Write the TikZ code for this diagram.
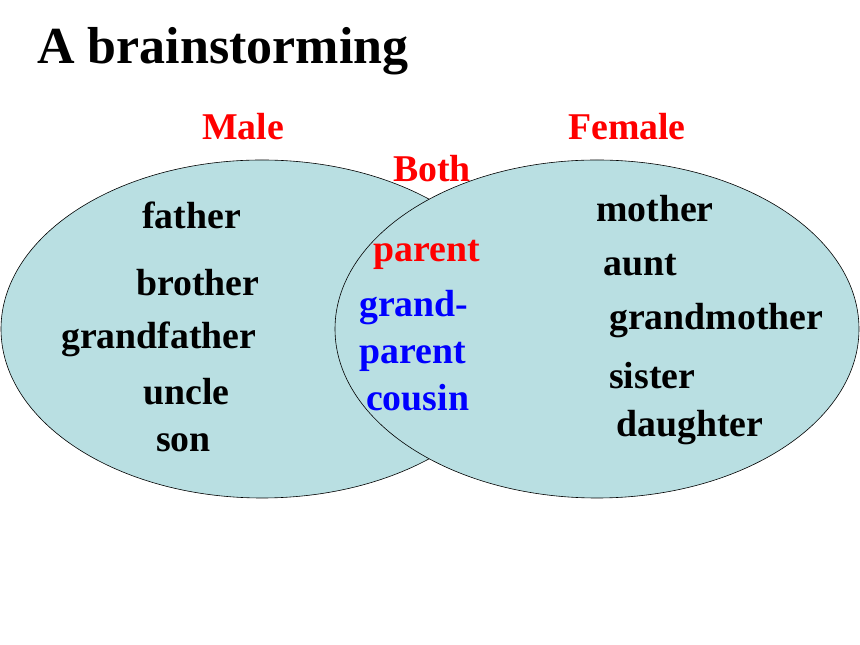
\documentclass[tikz,border=0pt]{standalone}
\usepackage{fontspec}
\setmainfont{Liberation Serif}
\usepackage{tikz}

\definecolor{venncyan}{RGB}{185,223,226}
\definecolor{vennred}{RGB}{255,0,0}
\definecolor{vennblue}{RGB}{0,0,255}

\begin{document}
\begin{tikzpicture}[
    x=1pt, y=1pt,
    wordnode/.style={anchor=base west, inner sep=0pt, font=\fontsize{37.8}{45}\selectfont\bfseries},
    malenode/.style={wordnode, text=black},
    headnode/.style={wordnode, text=vennred},
    bothnode/.style={wordnode, text=vennblue},
    setshape/.style={fill=venncyan, draw=black, line width=0.6pt},
  ]
  \useasboundingbox (0,0) rectangle (860,645);
  % the two sets
  \draw[setshape] (262,316) ellipse [x radius=261, y radius=169];
  \draw[setshape] (597,316) ellipse [x radius=262, y radius=169];
  % title and headings
  \node[wordnode, font=\fontsize{52}{60}\selectfont\bfseries] (title) at (37,581) {A brainstorming};
  \node[headnode] (male)   at (202,505) {Male};
  \node[headnode] (female) at (568,505) {Female};
  \node[headnode] (both)   at (393,463) {Both};
  % male words
  \node[malenode] (father)      at (142,416) {father};
  \node[malenode] (brother)     at (136,349) {brother};
  \node[malenode] (grandfather) at (61,296)  {grandfather};
  \node[malenode] (uncle)       at (143,240) {uncle};
  \node[malenode] (son)         at (156,193) {son};
  % female words
  \node[malenode] (mother)      at (596,423) {mother};
  \node[malenode] (aunt)        at (603,369) {aunt};
  \node[malenode] (grandmother) at (609,315) {grandmother};
  \node[malenode] (sister)      at (609,256) {sister};
  \node[malenode] (daughter)    at (616,208) {daughter};
  % both
  \node[headnode] (parent)      at (373,383) {parent};
  \node[bothnode] (grand)       at (359,328) {grand-};
  \node[bothnode] (gparent)     at (359,281) {parent};
  \node[bothnode] (cousin)      at (366,234) {cousin};
\end{tikzpicture}
\end{document}
